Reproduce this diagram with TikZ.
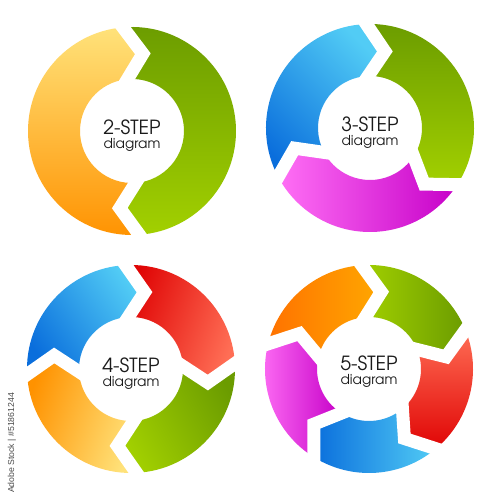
\documentclass[tikz,border=0pt]{standalone}
\usepackage{fontspec}
\usetikzlibrary{calc}
\newfontfamily\advfont{TeX Gyre Adventor}
\newfontfamily\wmfont{Liberation Sans}
\definecolor{ylight}{HTML}{FFE27A}
\definecolor{ydark}{HTML}{FF9200}
\definecolor{gdark}{HTML}{6B9C00}
\definecolor{glight}{HTML}{A2D000}
\definecolor{blight}{HTML}{52CCF5}
\definecolor{bdark}{HTML}{0A6EDC}
\definecolor{mlight}{HTML}{FF70F5}
\definecolor{mdark}{HTML}{C600C8}
\definecolor{rlight}{HTML}{FF6E55}
\definecolor{rdark}{HTML}{E00505}
\definecolor{olight}{HTML}{FFA800}
\definecolor{odark}{HTML}{FF7200}
\definecolor{txt}{HTML}{1A1A1A}
\tikzset{
  gapline/.style={white, line width=13pt, line join=miter, line cap=butt},
  shd/.style n args={3}{top color=#1, bottom color=#2, shading angle=#3},
  ttl/.style={font=\advfont\fontsize{19.5}{20}\selectfont, text=txt, inner sep=0pt, anchor=base},
  sub/.style={font=\advfont\fontsize{13.7}{14}\selectfont, text=txt, inner sep=0pt, anchor=base},
  wm/.style={font=\wmfont\fontsize{8.7}{9}\selectfont, text=black!70, inner sep=0pt, rotate=90}
}
\begin{document}
\begin{tikzpicture}[x=1pt,y=1pt]
\useasboundingbox (0,0) rectangle (500,500);
\fill[white] (0,0) rectangle (500,500);
\def\Ro{104}\def\Ri{52}\def\Rm{78}\def\dv{13}
\def\ringpart#1#2#3#4{%
  \path[#4] ($(#1)+(#2:\Ro)$) arc[start angle=#2, end angle=#3, radius=\Ro]
    -- ($(#1)+(#3-\dv:\Rm)$) -- ($(#1)+(#3:\Ri)$)
    arc[start angle=#3, end angle=#2, radius=\Ri]
    -- ($(#1)+(#2-\dv:\Rm)$) -- cycle;}
\def\cutat#1#2{%
  \coordinate (bo) at ($(#1)+(#2:\Ro)$);
  \coordinate (bv) at ($(#1)+(#2-\dv:\Rm)$);
  \coordinate (bi) at ($(#1)+(#2:\Ri)$);
  \draw[gapline] ($(bv)!1.5!(bo)$) -- (bv) -- ($(bv)!1.6!(bi)$);}

\coordinate (c1) at (132,369);
\coordinate (c2) at (370,372);
\coordinate (c3) at (131,131);
\coordinate (c4) at (369,131);

% 2-step
\ringpart{c1}{274}{95}{shd={ylight}{ydark}{0}}
\ringpart{c1}{95}{-86}{shd={gdark}{glight}{0}}
\cutat{c1}{95}\cutat{c1}{-86}
\node[ttl] (t1) at ($(c1)+(0,-4)$) {2-STEP};
\node[sub] (s1) at ($(c1)+(0,-18)$) {diagram};

% 3-step
\ringpart{c2}{208}{92}{shd={blight}{bdark}{-45}}
\ringpart{c2}{92}{-33}{shd={gdark}{glight}{0}}
\ringpart{c2}{-33}{-152}{shd={mlight}{mdark}{90}}
\cutat{c2}{92}\cutat{c2}{-33}\cutat{c2}{-152}
\node[ttl] (t2) at ($(c2)+(0,-4)$) {3-STEP};
\node[sub] (s2) at ($(c2)+(0,-18)$) {diagram};

% 4-step
\ringpart{c3}{183}{93}{shd={blight}{bdark}{-55}}
\ringpart{c3}{93}{3}{shd={rlight}{rdark}{-110}}
\ringpart{c3}{3}{-87}{shd={gdark}{glight}{-60}}
\ringpart{c3}{-87}{-177}{shd={ylight}{ydark}{-110}}
\cutat{c3}{93}\cutat{c3}{3}\cutat{c3}{-87}\cutat{c3}{-177}
\node[ttl] (t3) at ($(c3)+(0,-4)$) {4-STEP};
\node[sub] (s3) at ($(c3)+(0,-18)$) {diagram};

% 5-step
\ringpart{c4}{166}{94}{shd={olight}{odark}{-90}}
\ringpart{c4}{94}{22}{shd={gdark}{glight}{-90}}
\ringpart{c4}{22}{-50}{shd={rlight}{rdark}{0}}
\ringpart{c4}{-50}{-122}{shd={blight}{bdark}{-90}}
\ringpart{c4}{-122}{-194}{shd={mlight}{mdark}{90}}
\cutat{c4}{94}\cutat{c4}{22}\cutat{c4}{-50}\cutat{c4}{-122}\cutat{c4}{166}
\node[ttl] (t4) at ($(c4)+(0,-2)$) {5-STEP};
\node[sub] (s4) at ($(c4)+(0,-16)$) {diagram};

\node[wm] (wm) at (12,57) {Adobe Stock | \#51861244};
\end{tikzpicture}
\end{document}
